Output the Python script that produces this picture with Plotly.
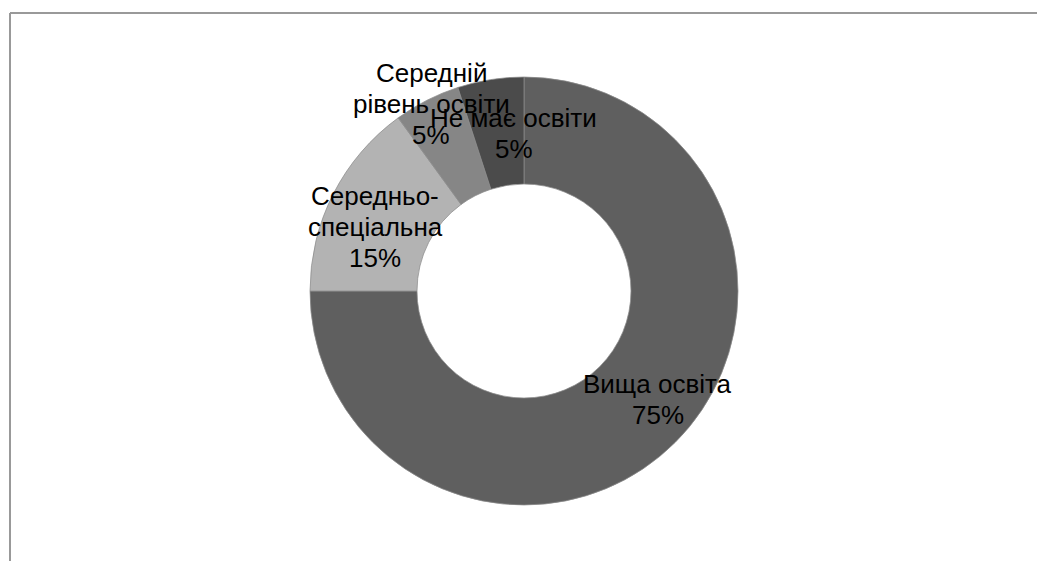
import math
import plotly.graph_objects as go

# Education level breakdown (share of respondents, %)
categories = ["Вища освіта", "Середньо-|спеціальна", "Середній|рівень освіти", "Не має освіти"]
values = [75, 15, 5, 5]
colors = ["#5f5f5f", "#b3b3b3", "#868686", "#4b4b4b"]

W, H = 1037, 561
CX, CY, R_OUT = 524, 291, 214   # ring centre and outer radius, pixels
HOLE = 0.5
FONT_SIZE = 26
LINE_GAP = 31                   # pixels between label lines

# per-label nudges (pixels) so the labels sit like a best-fit layout
label_shift = [(20.5, -4.5), (-5.5, 8.5), (-20, -44), (15, 1.5)]

fig = go.Figure(
    go.Pie(
        labels=[c.replace("|", " ") for c in categories],
        values=values,
        hole=HOLE,
        sort=False,
        direction="clockwise",
        rotation=0,
        textinfo="none",
        hoverinfo="skip",
        marker=dict(colors=colors, line=dict(color="#8c8c8c", width=0.75)),
        domain=dict(
            x=[(CX - R_OUT) / W, (CX + R_OUT) / W],
            y=[(H - CY - R_OUT) / H, (H - CY + R_OUT) / H],
        ),
        showlegend=False,
    )
)

# Data labels placed at the middle of each ring segment, one annotation per line
total = sum(values)
r_mid = R_OUT * (1 + HOLE) / 2
cum = 0
annotations = []
for cat, val, (dx, dy) in zip(categories, values, label_shift):
    mid = (cum + val / 2) / total * 2 * math.pi
    cum += val
    px = CX + r_mid * math.sin(mid) + dx
    py = CY - r_mid * math.cos(mid) + dy
    pct = round(val / total * 100)
    lines = cat.split("|") + [f"{pct}%"]
    n = len(lines)
    for i, line in enumerate(lines):
        ly = py + (i - (n - 1) / 2) * LINE_GAP
        annotations.append(
            dict(
                x=px / W,
                y=1 - ly / H,
                xref="paper",
                yref="paper",
                text=line,
                showarrow=False,
                xanchor="center",
                yanchor="middle",
                align="center",
                font=dict(family="Liberation Sans, Arial, sans-serif", size=FONT_SIZE, color="#000000"),
            )
        )

# Chart-area frame (top and left edges visible)
frame = dict(color="#999999", width=2)
shapes = [
    dict(type="line", xref="paper", yref="paper", x0=10 / W, x1=1.0, y0=1 - 13 / H, y1=1 - 13 / H, line=frame),
    dict(type="line", xref="paper", yref="paper", x0=10 / W, x1=10 / W, y0=0, y1=1 - 13 / H, line=frame),
]

fig.update_layout(
    width=W,
    height=H,
    margin=dict(l=0, r=0, t=0, b=0),
    paper_bgcolor="#ffffff",
    plot_bgcolor="#ffffff",
    annotations=annotations,
    shapes=shapes,
)

fig.write_html("out.html")
